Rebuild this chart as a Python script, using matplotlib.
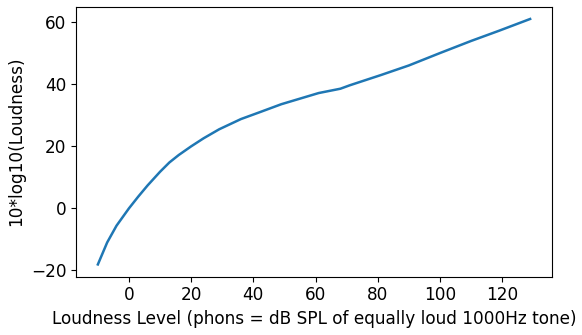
import matplotlib
matplotlib.use("Agg")
import matplotlib.pyplot as plt

# loudness level (phons) vs 10*log10(loudness)
phons = [-10, -7, -4, 0, 3, 6, 10, 13, 16, 20, 24, 29, 36, 42, 49, 55, 61,
         68, 71, 81, 90, 100, 110, 119, 129]
loud_db = [-18.1, -11.0, -5.6, 0.0, 3.8, 7.4, 11.8, 14.8, 17.2, 20.0, 22.6,
           25.5, 28.8, 31.0, 33.6, 35.4, 37.2, 38.6, 39.7, 43.0, 46.1, 50.1,
           54.0, 57.3, 61.1]
y_ticks = [-20, 0, 20, 40, 60]

plt.rcParams['font.size'] = 12.2

fig = plt.figure(figsize=(5.82, 3.35), dpi=100)
ax = fig.add_axes([0.131, 0.174, 0.817, 0.806])
ax.plot(phons, loud_db, lw=1.8)
ax.set_yticks(y_ticks)
ax.set_xlabel('Loudness Level (phons = dB SPL of equally loud 1000Hz tone)')
ax.set_ylabel('10*log10(Loudness)')

fig.savefig('out.png', dpi=100)
